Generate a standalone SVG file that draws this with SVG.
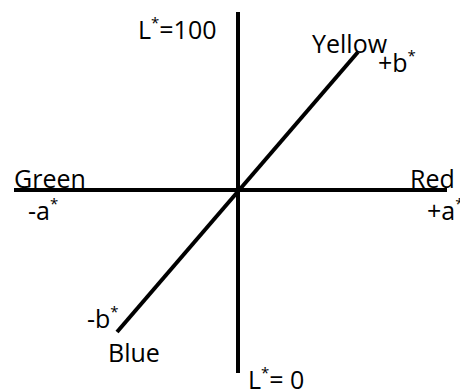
<svg xmlns="http://www.w3.org/2000/svg" width="460" height="392" viewBox="0 0 460 392">
<style>
.ax{stroke:#000;stroke-width:4;fill:none;stroke-linecap:butt}
text{font-family:"Open Sans","Noto Sans",sans-serif;font-size:25px;fill:#000}
.s{font-size:15px}
</style>
<rect width="460" height="392" fill="#fff"/>
<g id="connectors">
<line class="ax" x1="14" y1="190" x2="447" y2="190"/>
<line class="ax" x1="238" y1="12" x2="238" y2="373"/>
<line class="ax" x1="117" y1="332" x2="358" y2="52"/>
</g>
<g id="L100"><text x="138" y="39">L<tspan class="s" dy="-11">*</tspan><tspan dy="11">=100</tspan></text></g>
<g id="L0"><text x="248" y="389">L<tspan class="s" dy="-11">*</tspan><tspan dy="11">= 0</tspan></text></g>
<g id="yellow"><text x="312" y="53">Yellow</text><text x="378" y="72">+b<tspan class="s" dy="-11">*</tspan></text></g>
<g id="green"><text x="14" y="188">Green</text><text x="28" y="220">-a<tspan class="s" dy="-11">*</tspan></text></g>
<g id="red"><text x="410" y="188">Red</text><text x="427" y="220">+a<tspan class="s" dy="-11">*</tspan></text></g>
<g id="blue"><text x="87" y="328">-b<tspan class="s" dy="-11">*</tspan></text><text x="108" y="362">Blue</text></g>
</svg>
